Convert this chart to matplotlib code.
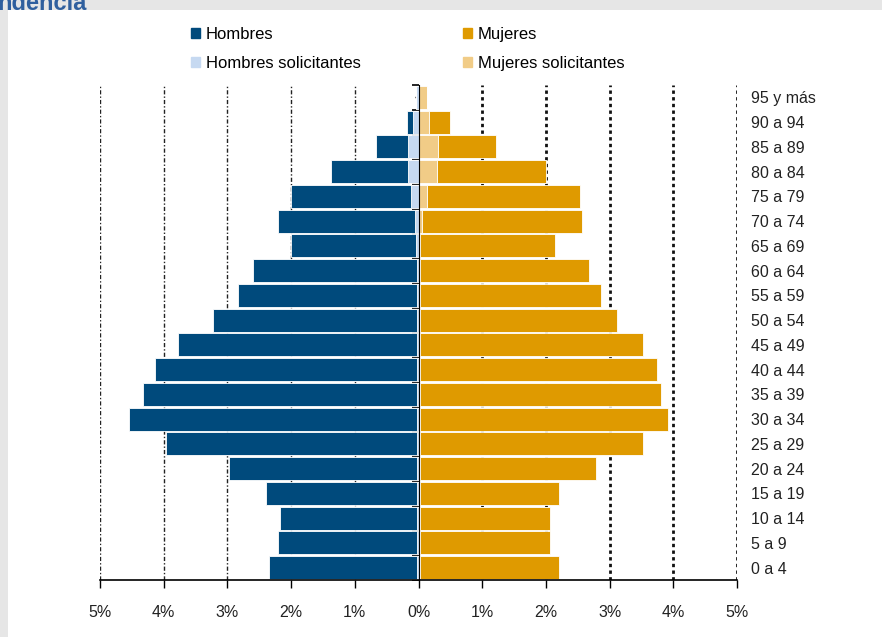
import matplotlib.pyplot as plt
import numpy as np
from matplotlib.patches import Patch

plt.rcParams['font.family'] = ['Liberation Sans', 'DejaVu Sans']

# Age groups, bottom to top
edades = ['0 a 4', '5 a 9', '10 a 14', '15 a 19', '20 a 24', '25 a 29', '30 a 34',
          '35 a 39', '40 a 44', '45 a 49', '50 a 54', '55 a 59', '60 a 64', '65 a 69',
          '70 a 74', '75 a 79', '80 a 84', '85 a 89', '90 a 94', '95 y más']

# Percent of population (men drawn to the left)
hombres = [2.32, 2.18, 2.15, 2.36, 2.95, 3.93, 4.51, 4.29, 4.10, 3.75,
           3.20, 2.81, 2.57, 1.96, 2.15, 1.89, 1.22, 0.50, 0.09, 0.00]
hombres_sol = [0.03, 0.03, 0.03, 0.03, 0.03, 0.03, 0.03, 0.03, 0.03, 0.03,
               0.03, 0.03, 0.03, 0.04, 0.06, 0.11, 0.16, 0.16, 0.09, 0.04]
mujeres = [2.17, 2.03, 2.03, 2.18, 2.75, 3.50, 3.88, 3.77, 3.71, 3.50,
           3.08, 2.83, 2.65, 2.11, 2.52, 2.40, 1.71, 0.92, 0.32, 0.01]
mujeres_sol = [0.03, 0.03, 0.03, 0.03, 0.03, 0.03, 0.03, 0.03, 0.03, 0.03,
               0.03, 0.03, 0.03, 0.03, 0.05, 0.14, 0.29, 0.30, 0.17, 0.13]

xticks = [-5, -4, -3, -2, -1, 0, 1, 2, 3, 4, 5]
xlabels = ['5%', '4%', '3%', '2%', '1%', '0%', '1%', '2%', '3%', '4%', '5%']

c_h = '#004a7c'
c_hs = '#c6d9f1'
c_m = '#df9a00'
c_ms = '#f1cc87'

fig = plt.figure(figsize=(8.82, 6.37), dpi=100)
fig.patch.set_facecolor('white')
# grey frame of the original slide
fig.patches.append(plt.Rectangle((0, 0), 1, 1, transform=fig.transFigure,
                                 facecolor='#e6e6e6', edgecolor='none', zorder=-3))
fig.patches.append(plt.Rectangle((8 / 882, 0), 1, 1 - 10 / 637, transform=fig.transFigure,
                                 facecolor='white', edgecolor='none', zorder=-2))
fig.text(-0.003, 1.012, 'ndencia', color='#2f5f9e', fontsize=17, fontweight='bold',
         ha='left', va='top')

ax = fig.add_axes([100 / 882, 1 - 580 / 637, 637 / 882, 495 / 637])
y = np.arange(len(edades))
h = np.array(hombres)
hs = np.array(hombres_sol)
m = np.array(mujeres)
ms = np.array(mujeres_sol)

ax.barh(y, -hs, height=0.93, color=c_hs, edgecolor='white', linewidth=0.6, zorder=2)
ax.barh(y, -h, left=-hs, height=0.93, color=c_h, edgecolor='white', linewidth=0.6, zorder=2)
ax.barh(y, ms, height=0.93, color=c_ms, edgecolor='white', linewidth=0.6, zorder=2)
ax.barh(y, m, left=ms, height=0.93, color=c_m, edgecolor='white', linewidth=0.6, zorder=2)

# vertical gridlines
for t in xticks:
    if t < 0:
        ax.axvline(t, color='#222222', lw=1.0, ls=(0, (3, 1.5, 1, 1.5)), zorder=1)
    elif t > 0:
        ax.axvline(t, color='#111111', lw=2.0, ls=(0, (1.2, 1.2)), zorder=1)

ax.set_xlim(-5, 5)
ax.set_ylim(-0.5, len(edades) - 0.5)
ax.set_xticks(xticks)
ax.set_xticklabels(xlabels, fontsize=11.5, color='#222222')
ax.tick_params(axis='x', direction='out', length=6, width=1, pad=12)

ax.spines['top'].set_visible(False)
ax.spines['right'].set_visible(False)
ax.spines['left'].set_position(('data', 0))
ax.spines['left'].set_zorder(3)
ax.spines['bottom'].set_linewidth(1.2)
ax.set_yticks(np.arange(len(edades) + 1) - 0.5)
ax.set_yticklabels([])
ax.set_yticks(y, minor=True)
ax.tick_params(axis='y', which='major', direction='out', length=5, width=1.2)
ax.tick_params(axis='y', which='minor', direction='out', length=3, width=1)

ax2 = ax.twinx()
ax2.set_ylim(ax.get_ylim())
ax2.set_yticks(y)
ax2.set_yticklabels(edades, fontsize=11.5, color='#222222')
ax2.tick_params(axis='y', length=0, pad=10)
for s in ax2.spines.values():
    s.set_visible(False)

handles = [Patch(color=c_h), Patch(color=c_hs), Patch(color=c_m), Patch(color=c_ms)]
labels = ['Hombres', 'Hombres solicitantes', 'Mujeres', 'Mujeres solicitantes']
fig.legend(handles, labels, ncol=2, loc='upper left', bbox_to_anchor=(176 / 882, 1 - 12 / 637),
           frameon=False, fontsize=12, handlelength=0.55, handleheight=0.55,
           handletextpad=0.35, columnspacing=6.1, labelspacing=0.85)

plt.savefig('out.png', dpi=100)
